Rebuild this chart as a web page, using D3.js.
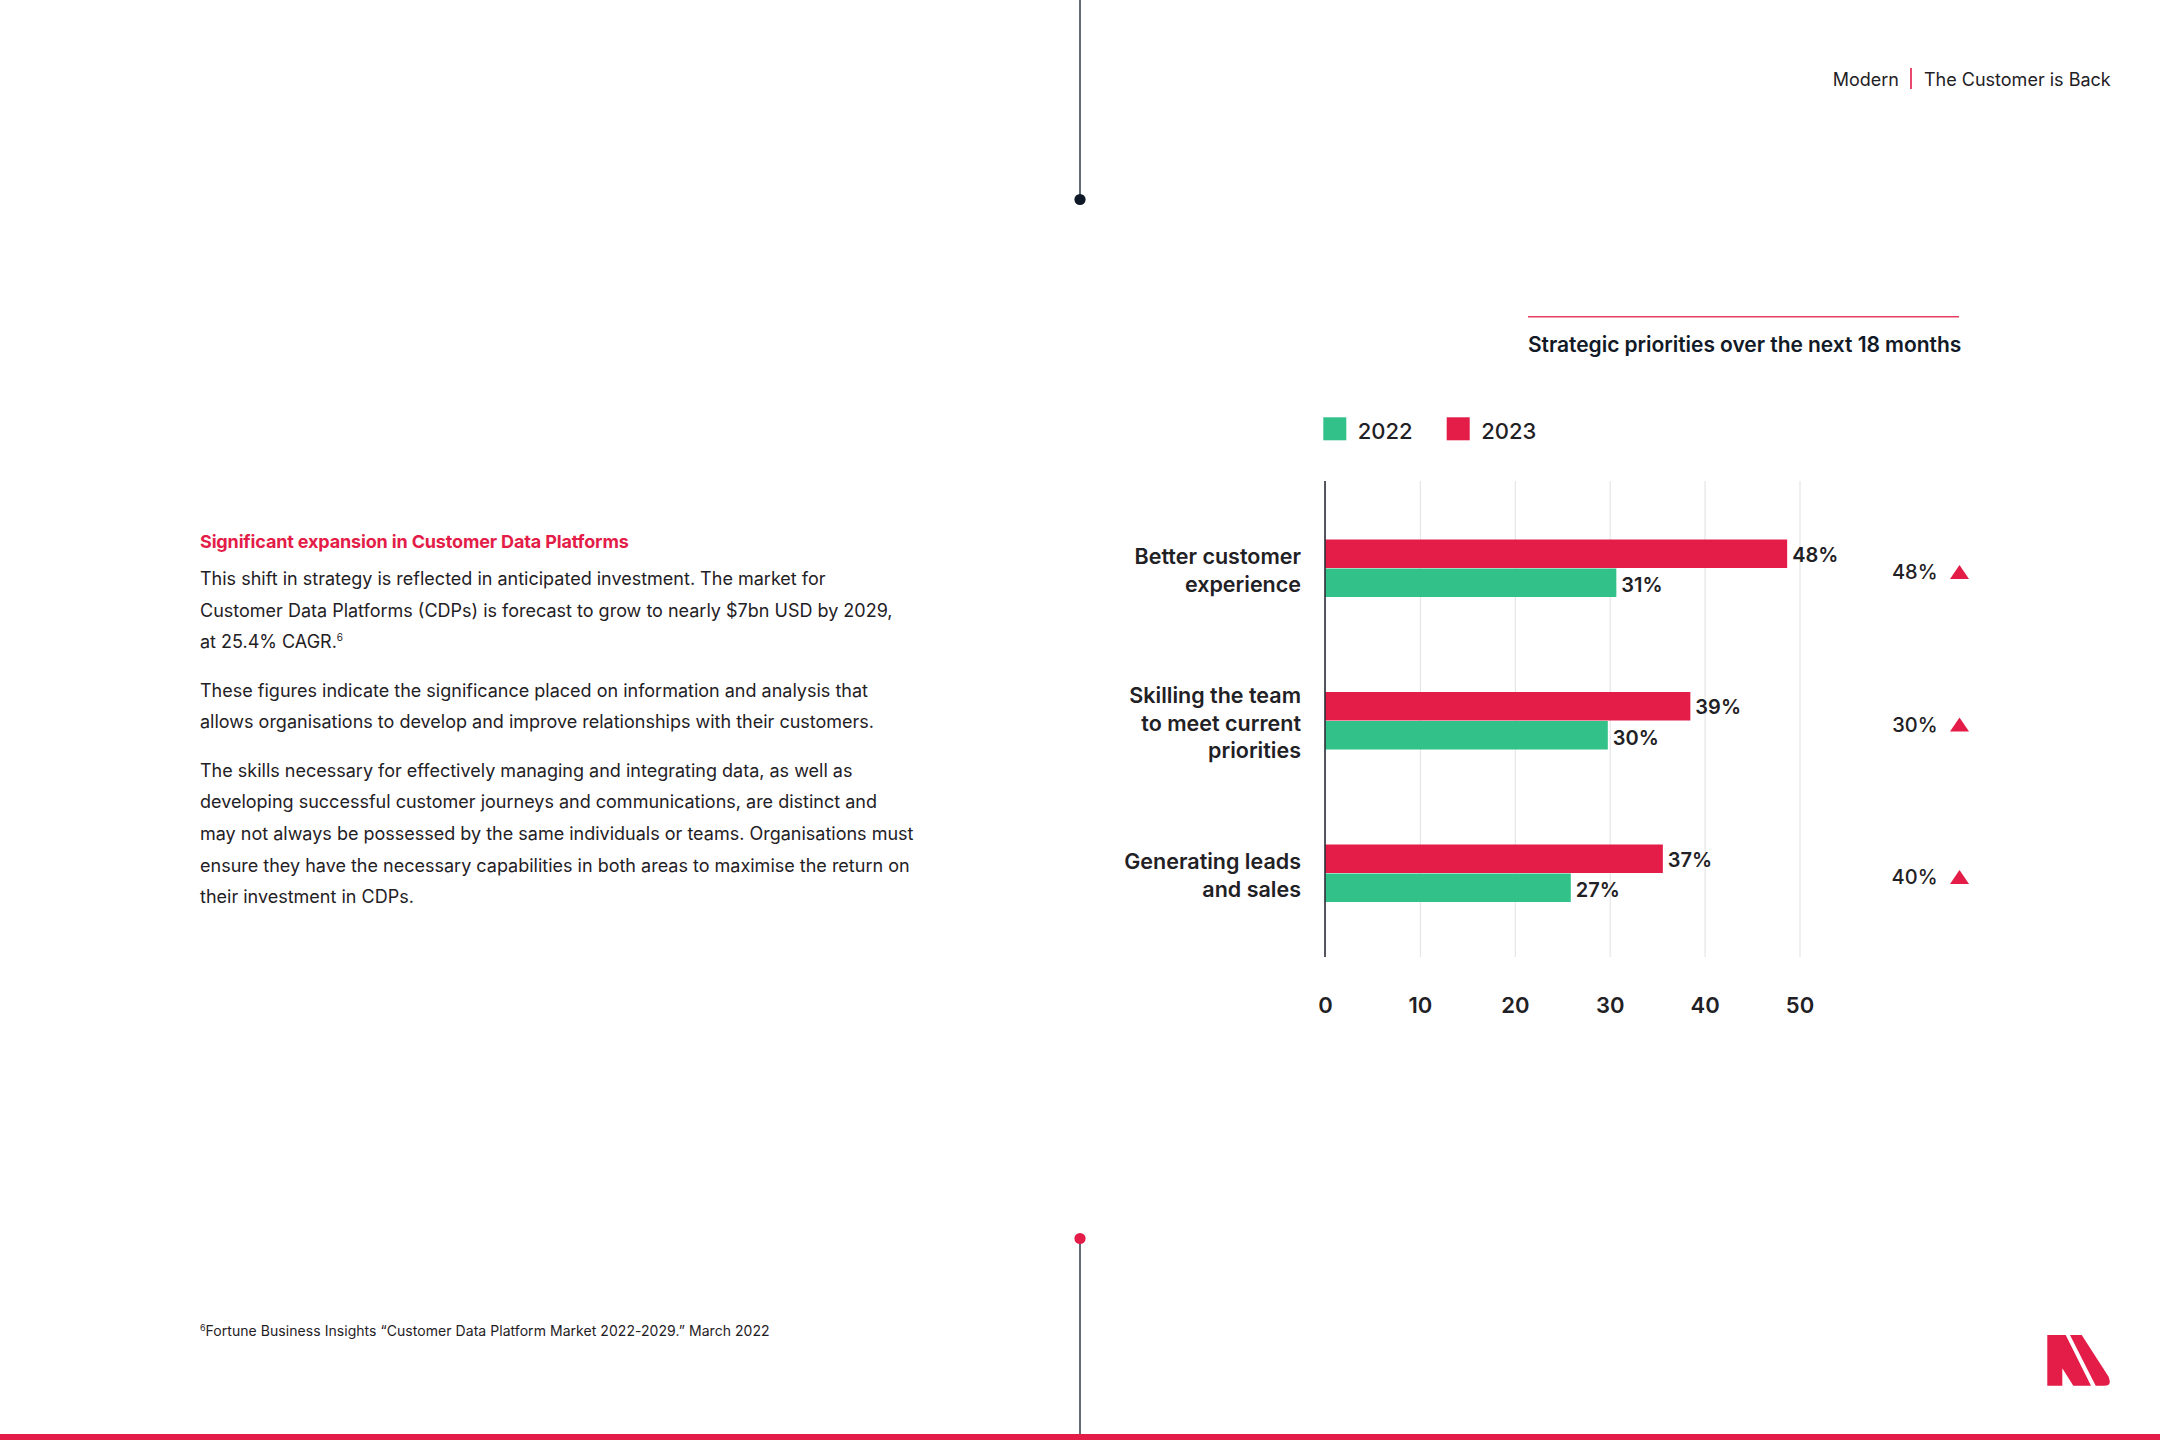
<!DOCTYPE html>
<html>
<head>
<meta charset="utf-8">
<script src="https://cdn.jsdelivr.net/npm/d3@7"></script>
<style>
  html, body { margin: 0; padding: 0; background: #ffffff; }
  svg { display: block; font-family: Inter, "Noto Sans", sans-serif; }
</style>
</head>
<body>
<svg id="chart" width="2160" height="1440"></svg>
<script>
// ---------------- data ----------------
const categories = ["Better customer experience", "Skilling the team to meet current priorities", "Generating leads and sales"];
const categoryLines = [["Better customer", "experience"], ["Skilling the team", "to meet current", "priorities"], ["Generating leads", "and sales"]];
const seriesNames = ["2022", "2023"];
const values2023 = [48.7, 38.5, 35.6];
const values2022 = [30.7, 29.8, 25.9];
const labels2023 = ["48%", "39%", "37%"];
const labels2022 = ["31%", "30%", "27%"];
const changeLabels = ["48%", "30%", "40%"];
const xTicks = [0, 10, 20, 30, 40, 50];

const bodyParagraphs = [
  ["This shift in strategy is reflected in anticipated investment. The market for",
   "Customer Data Platforms (CDPs) is forecast to grow to nearly $7bn USD by 2029,",
   "at 25.4% CAGR.|6"],
  ["These figures indicate the significance placed on information and analysis that",
   "allows organisations to develop and improve relationships with their customers."],
  ["The skills necessary for effectively managing and integrating data, as well as",
   "developing successful customer journeys and communications, are distinct and",
   "may not always be possessed by the same individuals or teams. Organisations must",
   "ensure they have the necessary capabilities in both areas to maximise the return on",
   "their investment in CDPs."]
];

// ---------------- styles ----------------
const RED = "#e31c48";
const GREEN = "#33c18a";
const INK = "#1f2125";
const NAVY = "#111a26";

const svg = d3.select("#chart");

// ---------------- page decoration ----------------
svg.append("line").attr("x1", 1080).attr("x2", 1080).attr("y1", 0).attr("y2", 200)
  .attr("stroke", "#3c4655").attr("stroke-width", 1.6);
svg.append("circle").attr("cx", 1080).attr("cy", 199.5).attr("r", 5.6).attr("fill", "#0e1826");
svg.append("line").attr("x1", 1080).attr("x2", 1080).attr("y1", 1238).attr("y2", 1434)
  .attr("stroke", "#3c4655").attr("stroke-width", 1.6);
svg.append("circle").attr("cx", 1080).attr("cy", 1238.5).attr("r", 5.6).attr("fill", RED);
svg.append("rect").attr("x", 0).attr("y", 1434).attr("width", 2160).attr("height", 6).attr("fill", RED);

// header
const header = svg.append("g").attr("font-size", 18).attr("fill", INK);
header.append("text").attr("x", 1899).attr("y", 86).attr("text-anchor", "end").text("Modern");
header.append("line").attr("x1", 1911).attr("x2", 1911).attr("y1", 68).attr("y2", 89)
  .attr("stroke", RED).attr("stroke-width", 1.6);
header.append("text").attr("x", 1924).attr("y", 86).text("The Customer is Back");

// logo
svg.append("path").attr("fill", RED)
  .attr("d", "M2047.3,1335 L2065.7,1335 L2091,1385.7 L2073.3,1385.7 L2062.3,1368.3 L2062.3,1385.7 L2047.3,1385.7 Z");
svg.append("path").attr("fill", RED)
  .attr("d", "M2070,1335 L2081.7,1335 L2108.3,1376.2 Q2112.5,1385.7 2104.5,1385.7 L2095.7,1385.7 Z");

// ---------------- left text ----------------
svg.append("text").attr("x", 200).attr("y", 548.3).attr("font-size", 18).attr("font-weight", 700)
  .attr("fill", RED).attr("letter-spacing", -0.15).text("Significant expansion in Customer Data Platforms");

const paraStarts = [585, 696.6, 776.5];
const lineGap = 31.7;
const body = svg.append("g").attr("font-size", 18).attr("fill", INK);
bodyParagraphs.forEach((lines, pi) => {
  lines.forEach((ln, li) => {
    const t = body.append("text").attr("x", 200).attr("y", paraStarts[pi] + li * lineGap);
    const parts = ln.split("|");
    t.append("tspan").text(parts[0]);
    if (parts[1]) t.append("tspan").attr("font-size", 10).attr("dy", -7).text(parts[1]);
  });
});

// footnote
const fn = svg.append("text").attr("x", 200).attr("y", 1336).attr("font-size", 14).attr("fill", INK);
fn.append("tspan").attr("font-size", 9).attr("dy", -5).text("6");
fn.append("tspan").attr("dy", 5).attr("letter-spacing", 0.05).text("Fortune Business Insights \u201CCustomer Data Platform Market 2022-2029.\u201D March 2022");

// ---------------- chart ----------------
// title
svg.append("line").attr("x1", 1528).attr("x2", 1959).attr("y1", 316.7).attr("y2", 316.7)
  .attr("stroke", RED).attr("stroke-width", 1.5).attr("opacity", 0.85);
svg.append("text").attr("x", 1528).attr("y", 352).attr("font-size", 21).attr("font-weight", 600)
  .attr("fill", NAVY).attr("letter-spacing", -0.05).text("Strategic priorities over the next 18 months");

// legend
const colorScale = d3.scaleOrdinal().domain(seriesNames).range([GREEN, RED]);
const legendX = d3.scalePoint().domain(seriesNames).range([1323.3, 1446.7]);
const legend = svg.append("g").selectAll("g").data(seriesNames).join("g")
  .attr("transform", d => `translate(${legendX(d)},417.3)`);
legend.append("rect").attr("width", 23).attr("height", 23).attr("fill", d => colorScale(d));
legend.append("text").attr("x", 34.5).attr("y", 22).attr("font-size", 22).attr("font-weight", 500)
  .attr("fill", INK).text(d => d);

// scales
const x = d3.scaleLinear().domain([0, 50]).range([1325, 1799.5]);
const y = d3.scalePoint().domain(categories).range([568, 873]);
const barH = 28.5;
const axisTop = 481, axisBottom = 957;

// grid + tick labels through axis
const xAxis = d3.axisBottom(x).tickValues(xTicks).tickSize(-(axisBottom - axisTop)).tickPadding(40).tickFormat(d3.format("d"));
const gx = svg.append("g").attr("transform", `translate(0,${axisBottom})`).call(xAxis);
gx.select(".domain").remove();
gx.selectAll(".tick line").attr("stroke", "#e6e6e6").attr("stroke-width", 1.2);
gx.selectAll(".tick text").attr("font-family", "Inter, sans-serif").attr("font-size", 22)
  .attr("font-weight", 600).attr("fill", INK);

// bars
const groups = svg.append("g").selectAll("g").data(categories).join("g");
groups.append("rect")
  .attr("x", x(0)).attr("y", d => y(d) - barH)
  .attr("width", (d, i) => x(values2023[i]) - x(0)).attr("height", barH)
  .attr("fill", RED);
groups.append("rect")
  .attr("x", x(0)).attr("y", d => y(d) + 0.5)
  .attr("width", (d, i) => x(values2022[i]) - x(0)).attr("height", barH)
  .attr("fill", GREEN);

// value labels
groups.append("text")
  .attr("x", (d, i) => x(values2023[i]) + 5).attr("y", d => y(d) - barH / 2 + 1).attr("dy", "0.36em")
  .attr("font-size", 20).attr("font-weight", 600).attr("fill", INK)
  .text((d, i) => labels2023[i]);
groups.append("text")
  .attr("x", (d, i) => x(values2022[i]) + 5).attr("y", d => y(d) + barH / 2 + 3).attr("dy", "0.36em")
  .attr("font-size", 20).attr("font-weight", 600).attr("fill", INK)
  .text((d, i) => labels2022[i]);

// category labels
const lineH = 27.6;
groups.append("text")
  .attr("text-anchor", "end").attr("font-size", 21.5).attr("font-weight", 600).attr("fill", INK)
  .each(function (d, i) {
    const lines = categoryLines[i];
    const t = d3.select(this);
    const y0 = y(d) + 2.5 - (lines.length - 1) * lineH / 2;
    lines.forEach((ln, k) => {
      t.append("tspan").attr("x", 1301).attr("y", y0 + k * lineH).attr("dy", "0.36em").text(ln);
    });
  });

// change labels with triangles
groups.append("text")
  .attr("x", 1937.5).attr("y", d => y(d) + 11).attr("text-anchor", "end")
  .attr("font-size", 20).attr("font-weight", 500).attr("fill", INK)
  .text((d, i) => changeLabels[i]);
groups.append("path")
  .attr("fill", RED)
  .attr("d", d => {
    const by = y(d) + 11, cx = 1959.5;
    return `M${cx - 9.5},${by} L${cx + 9.5},${by} L${cx},${by - 14} Z`;
  });

// axis line at zero
svg.append("line").attr("x1", x(0)).attr("x2", x(0)).attr("y1", axisTop).attr("y2", axisBottom)
  .attr("stroke", "#2b2f36").attr("stroke-width", 1.6);
</script>
</body>
</html>
